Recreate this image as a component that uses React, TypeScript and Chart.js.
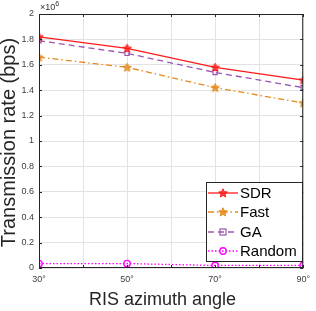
import React, { useEffect, useRef } from "react";
import { Chart, registerables } from "chart.js";
Chart.register(...registerables);

const angles = [30, 50, 70, 90];
const sdr = [1.82e6, 1.73e6, 1.58e6, 1.48e6];
const fast = [1.66e6, 1.58e6, 1.42e6, 1.30e6];
const ga = [1.79e6, 1.69e6, 1.54e6, 1.42e6];
const random = [0.035e6, 0.035e6, 0.02e6, 0.02e6];
const seriesNames = ["SDR", "Fast", "GA", "Random"];
const yTickValues = [0, 0.2, 0.4, 0.6, 0.8, 1, 1.2, 1.4, 1.6, 1.8, 2];
const xTitle = "RIS azimuth angle";
const yTitle = "Transmission rate (bps)";

const colors = ["#ff1a1a", "#e5891a", "#9a55b2", "#ff00ff"];
const dashes = [[], [6, 3, 1.5, 3], [6, 4], [1.5, 2]];
const FONT = "Liberation Sans, Arial, Helvetica, sans-serif";
const STAR_R = 4.5;

function drawStar(ctx: CanvasRenderingContext2D, cx: number, cy: number, r: number, color: string) {
  ctx.save();
  ctx.beginPath();
  for (let i = 0; i < 10; i++) {
    const rad = i % 2 === 0 ? r : r * 0.45;
    const a = -Math.PI / 2 + (i * Math.PI) / 5;
    const x = cx + rad * Math.cos(a);
    const y = cy + rad * Math.sin(a);
    if (i === 0) ctx.moveTo(x, y);
    else ctx.lineTo(x, y);
  }
  ctx.closePath();
  ctx.fillStyle = color;
  ctx.globalAlpha = 0.8;
  ctx.fill();
  ctx.globalAlpha = 1;
  ctx.strokeStyle = color;
  ctx.lineWidth = 1;
  ctx.setLineDash([]);
  ctx.stroke();
  ctx.restore();
}

function starCanvas(color: string) {
  const c = document.createElement("canvas");
  c.width = 11;
  c.height = 11;
  const ctx = c.getContext("2d")!;
  drawStar(ctx, 5.5, 5.8, STAR_R, color);
  return c;
}

function drawMarker(ctx: CanvasRenderingContext2D, i: number, x: number, y: number) {
  ctx.save();
  ctx.setLineDash([]);
  if (i < 2) {
    drawStar(ctx, x, y + 0.3, STAR_R, colors[i]);
  } else if (i === 2) {
    ctx.strokeStyle = colors[i];
    ctx.lineWidth = 1.2;
    ctx.strokeRect(x - 3, y - 3, 6, 6);
  } else {
    ctx.strokeStyle = colors[i];
    ctx.lineWidth = 1.4;
    ctx.beginPath();
    ctx.arc(x, y, 3.2, 0, Math.PI * 2);
    ctx.stroke();
  }
  ctx.restore();
}

const overlayPlugin = {
  id: "overlay",
  afterDraw(chart: any) {
    const ctx: CanvasRenderingContext2D = chart.ctx;
    const a = chart.chartArea;
    const xs = chart.scales.x;
    const ys = chart.scales.y;
    ctx.save();
    ctx.strokeStyle = "#262626";
    ctx.lineWidth = 1;
    ctx.setLineDash([]);
    ctx.strokeRect(a.left + 0.5, a.top + 0.5, a.right - a.left - 1, a.bottom - a.top - 1);
    ctx.beginPath();
    for (let v = 30; v <= 90; v += 10) {
      const px = Math.round(xs.getPixelForValue(v)) + 0.5;
      ctx.moveTo(px, a.bottom);
      ctx.lineTo(px, a.bottom - 3);
      ctx.moveTo(px, a.top);
      ctx.lineTo(px, a.top + 3);
    }
    for (const t of yTickValues) {
      const py = Math.round(ys.getPixelForValue(t * 1e6)) + 0.5;
      ctx.moveTo(a.left, py);
      ctx.lineTo(a.left + 3, py);
      ctx.moveTo(a.right, py);
      ctx.lineTo(a.right - 3, py);
    }
    ctx.stroke();
    // exponent
    ctx.fillStyle = "#333";
    ctx.textBaseline = "alphabetic";
    ctx.textAlign = "left";
    ctx.font = `9px ${FONT}`;
    ctx.fillText("×10", a.left + 1, a.top - 4);
    const w = ctx.measureText("×10").width;
    ctx.font = `7px ${FONT}`;
    ctx.fillText("6", a.left + 1 + w, a.top - 8);
    // axis titles
    ctx.fillStyle = "#262626";
    ctx.font = `18px ${FONT}`;
    ctx.textAlign = "center";
    ctx.textBaseline = "alphabetic";
    ctx.fillText(xTitle, 162.5, 305);
    ctx.save();
    ctx.translate(9, 142.5);
    ctx.rotate(-Math.PI / 2);
    ctx.font = `20px ${FONT}`;
    ctx.textBaseline = "middle";
    ctx.fillText(yTitle, 0, 0);
    ctx.restore();
    // legend
    const lx = 206, ly = 182, lw = 96, lh = 79;
    ctx.fillStyle = "#fff";
    ctx.fillRect(lx, ly, lw, lh);
    ctx.strokeStyle = "#262626";
    ctx.lineWidth = 1;
    ctx.strokeRect(lx + 0.5, ly + 0.5, lw, lh);
    const rows = [193, 212, 232, 251];
    ctx.font = `15px ${FONT}`;
    ctx.textAlign = "left";
    ctx.textBaseline = "middle";
    for (let i = 0; i < 4; i++) {
      const y = rows[i];
      ctx.strokeStyle = colors[i];
      ctx.lineWidth = 1.3;
      ctx.setLineDash(dashes[i]);
      ctx.beginPath();
      ctx.moveTo(208, y);
      ctx.lineTo(238, y);
      ctx.stroke();
      drawMarker(ctx, i, 223, y);
      ctx.fillStyle = "#000";
      ctx.fillText(seriesNames[i], 240, y + 1);
    }
    ctx.restore();
  },
};

export default function App() {
  const ref = useRef<HTMLCanvasElement>(null);
  useEffect(() => {
    const seriesData = [sdr, fast, ga, random];
    const datasets = seriesData.map((vals, i) => ({
      label: seriesNames[i],
      data: angles.map((x, j) => ({ x, y: vals[j] })),
      borderColor: colors[i],
      backgroundColor: i < 2 ? colors[i] : "rgba(255,255,255,0)",
      borderWidth: 1.3,
      borderDash: dashes[i],
      pointStyle: i < 2 ? starCanvas(colors[i]) : i === 2 ? "rect" : "circle",
      pointRadius: i === 2 ? 3 : 3.2,
      pointBorderWidth: i === 3 ? 1.4 : 1.2,
      pointBorderColor: colors[i],
      pointBackgroundColor: "rgba(255,255,255,0)",
      tension: 0,
      fill: false,
    }));
    const chart = new Chart(ref.current!, {
      type: "line",
      data: { datasets },
      plugins: [overlayPlugin],
      options: {
        animation: false,
        responsive: false,
        devicePixelRatio: 1,
        layout: { padding: { top: 14, right: 9, left: 0, bottom: 0 } },
        plugins: { legend: { display: false }, tooltip: { enabled: false } },
        scales: {
          x: {
            type: "linear",
            min: 30,
            max: 90,
            afterFit: (s: any) => { s.height = 43; },
            grid: { color: "#e3e3e3", tickLength: 0, drawTicks: false },
            border: { display: false },
            ticks: {
              stepSize: 10,
              autoSkip: false,
              maxRotation: 0,
              padding: 6,
              color: "#404040",
              font: { family: FONT, size: 9 },
              callback: (v: any) => (Number(v) % 20 === 10 ? `${v}°` : ""),
            },
            title: { display: false },
          },
          y: {
            min: 0,
            max: 2e6,
            afterFit: (s: any) => { s.width = 39; },
            afterBuildTicks: (s: any) => {
              s.ticks = yTickValues.map((v) => ({ value: v * 1e6 }));
            },
            grid: { color: "#e3e3e3", tickLength: 0, drawTicks: false },
            border: { display: false },
            ticks: {
              padding: 5,
              color: "#404040",
              font: { family: FONT, size: 9 },
              callback: (v: any) => `${Math.round(Number(v) / 1e5) / 10}`,
            },
            title: { display: false },
          },
        },
      },
    });
    return () => chart.destroy();
  }, []);
  return (
    <div style={{ position: "absolute", left: 0, top: 0, width: 316, height: 311, background: "#fff" }}>
      <canvas ref={ref} width={316} height={311} style={{ width: 316, height: 311 }} />
    </div>
  );
}
